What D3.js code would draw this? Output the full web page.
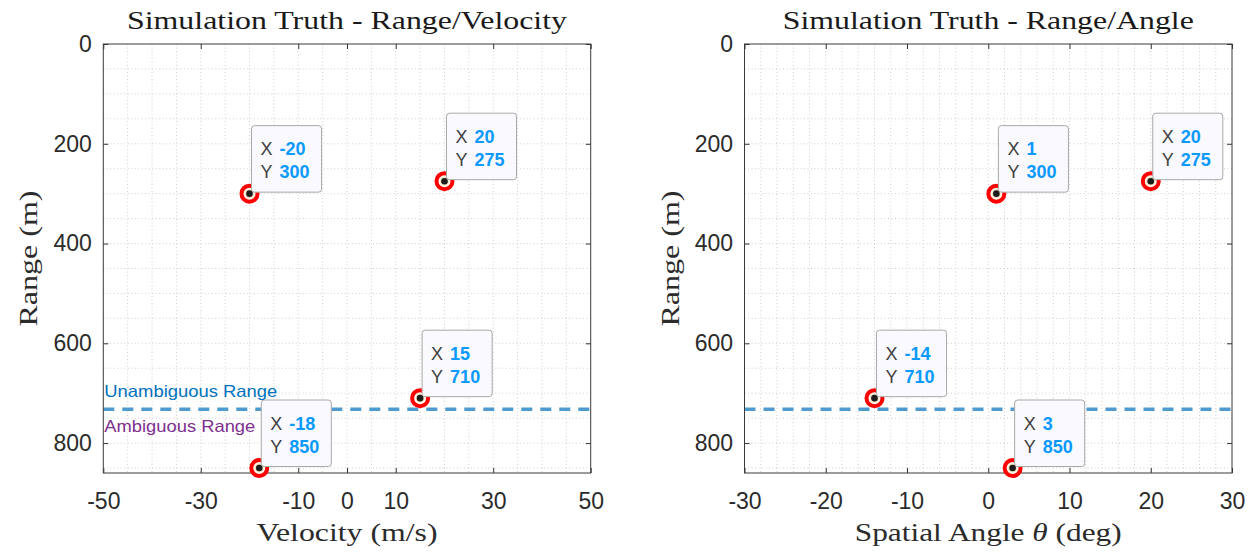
<!DOCTYPE html>
<html>
<head>
<meta charset="utf-8">
<script src="https://cdn.jsdelivr.net/npm/d3@7/dist/d3.min.js"></script>
<style>
body{margin:0;background:#fff;}
svg{display:block;}
</style>
</head>
<body>
<svg id="chart"></svg>
<script>
// target data
var rangeVals = [300, 275, 710, 850];
var velocityVals = [-20, 20, 15, -18];
var angleVals = [1, 20, -14, 3];
var unambiguousRange = 732;

var rangeTicks = [0, 200, 400, 600, 800];
var velocityTicks = [-50, -30, -10, 0, 10, 30, 50];
var angleTicks = [-30, -20, -10, 0, 10, 20, 30];

var screen = {width: 1257, height: 554};
var plotTop = 44, plotBottom = 473;

var svg = d3.select('#chart')
  .attr('width', screen.width)
  .attr('height', screen.height);

var sans = '"Liberation Sans", Arial, Helvetica, sans-serif';
var serif = '"Liberation Serif", "Times New Roman", serif';

var yScale = d3.scaleLinear()
  .domain([0, 860])
  .range([plotTop, plotBottom]);

var drawPanel = function(cfg)
{
  var xScale = d3.scaleLinear()
    .domain(cfg.xDomain)
    .range([cfg.left, cfg.right]);

  var g = svg.append('g').classed('panel', true);

  // dotted grid (major + minor)
  var xGrid = d3.range(cfg.xDomain[0] + cfg.xMinor, cfg.xDomain[1] - 0.001, cfg.xMinor);
  var yGrid = d3.range(50, 860, 50);
  g.append('g').selectAll('line.vg')
    .data(xGrid).enter().append('line')
    .attr('x1', function(d){return xScale(d);})
    .attr('x2', function(d){return xScale(d);})
    .attr('y1', plotTop).attr('y2', plotBottom)
    .attr('stroke', '#cfcfcf').attr('stroke-width', 1)
    .attr('stroke-dasharray', '1,2.5');
  g.append('g').selectAll('line.hg')
    .data(yGrid).enter().append('line')
    .attr('y1', function(d){return yScale(d);})
    .attr('y2', function(d){return yScale(d);})
    .attr('x1', cfg.left).attr('x2', cfg.right)
    .attr('stroke', '#cfcfcf').attr('stroke-width', 1)
    .attr('stroke-dasharray', '1,2.5');

  // ambiguity boundary
  g.append('line')
    .attr('x1', cfg.left).attr('x2', cfg.right)
    .attr('y1', yScale(unambiguousRange)).attr('y2', yScale(unambiguousRange))
    .attr('stroke', '#4f9bd0').attr('stroke-width', 3.5)
    .attr('stroke-dasharray', '11,8');

  if(cfg.regionLabels)
  {
    g.append('text')
      .attr('x', cfg.left + 1).attr('y', 396.5)
      .attr('font-family', sans).attr('font-size', 16.5)
      .attr('fill', '#0072BD')
      .attr('textLength', 173).attr('lengthAdjust', 'spacingAndGlyphs')
      .text('Unambiguous Range');
    g.append('text')
      .attr('x', cfg.left + 1).attr('y', 431.5)
      .attr('font-family', sans).attr('font-size', 16.5)
      .attr('fill', '#7E2F8E')
      .attr('textLength', 151).attr('lengthAdjust', 'spacingAndGlyphs')
      .text('Ambiguous Range');
  }

  // axes with inward ticks
  var xAxis = d3.axisBottom(xScale).tickValues(cfg.xTicks).tickSize(-5).tickPadding(19.5)
    .tickFormat(function(d){return String(d);});
  var xAxisTop = d3.axisTop(xScale).tickValues(cfg.xTicks).tickSize(-5).tickFormat('');
  var yAxis = d3.axisLeft(yScale).tickValues(rangeTicks).tickSize(-5).tickPadding(11.5);
  var yAxisRight = d3.axisRight(yScale).tickValues(rangeTicks).tickSize(-5).tickFormat('');

  var axes = [
    g.append('g').attr('transform', 'translate(0,' + plotBottom + ')').call(xAxis),
    g.append('g').attr('transform', 'translate(0,' + plotTop + ')').call(xAxisTop),
    g.append('g').attr('transform', 'translate(' + cfg.left + ',0)').call(yAxis),
    g.append('g').attr('transform', 'translate(' + cfg.right + ',0)').call(yAxisRight)
  ];
  axes.forEach(function(a)
  {
    a.select('.domain').remove();
    a.selectAll('line').attr('stroke', '#333');
    a.selectAll('text')
      .attr('font-family', sans).attr('font-size', 23)
      .attr('fill', '#2b2b2b');
  });

  g.append('rect')
    .attr('x', cfg.left).attr('y', plotTop)
    .attr('width', cfg.right - cfg.left).attr('height', plotBottom - plotTop)
    .attr('fill', 'none').attr('stroke', '#3a3a3a').attr('stroke-width', 1);

  // titles and labels
  var cx = (cfg.left + cfg.right) / 2;
  g.append('text')
    .attr('x', cx).attr('y', 29)
    .attr('text-anchor', 'middle')
    .attr('font-family', serif).attr('font-size', 26)
    .attr('fill', '#1a1a1a')
    .attr('textLength', cfg.titleWidth).attr('lengthAdjust', 'spacingAndGlyphs')
    .text(cfg.title);

  var xl = g.append('text')
    .attr('x', cx).attr('y', 541)
    .attr('text-anchor', 'middle')
    .attr('font-family', serif).attr('font-size', 26)
    .attr('fill', '#2b2b2b')
    .attr('textLength', cfg.xLabelWidth).attr('lengthAdjust', 'spacingAndGlyphs');
  cfg.xLabel.forEach(function(p)
  {
    xl.append('tspan').attr('font-style', p.italic ? 'italic' : 'normal').text(p.t);
  });

  g.append('text')
    .attr('transform', 'translate(' + (cfg.left - 66) + ',' + ((plotTop + plotBottom) / 2) + ') rotate(-90)')
    .attr('text-anchor', 'middle')
    .attr('font-family', serif).attr('font-size', 26)
    .attr('fill', '#2b2b2b')
    .attr('textLength', 136).attr('lengthAdjust', 'spacingAndGlyphs')
    .text('Range (m)');

  // target markers
  var pts = cfg.xVals.map(function(d, i){return {x: d, y: rangeVals[i]};});
  var marks = g.append('g').selectAll('g.mark')
    .data(pts).enter().append('g')
    .attr('transform', function(d){return 'translate(' + xScale(d.x) + ',' + yScale(d.y) + ')';});
  marks.append('circle').attr('r', 8)
    .attr('fill', '#fffaf0').attr('stroke', '#ff0000').attr('stroke-width', 4);
  marks.append('circle').attr('r', 4.4).attr('fill', '#f1dfb8');
  marks.append('circle').attr('r', 3.3).attr('fill', '#1c1c1c');

  // datatips
  pts.forEach(function(d)
  {
    var px = xScale(d.x) + 2, py = yScale(d.y) - 1.5;
    var h = 66.5;
    var tip = g.append('g').attr('transform', 'translate(' + px + ',' + (py - h) + ')');
    var box = tip.append('rect')
      .attr('y', 0).attr('x', 0).attr('height', h).attr('rx', 3)
      .attr('fill', '#f9f9fe').attr('stroke', '#a8a8a8').attr('stroke-width', 1);
    var rows = [['X', d.x], ['Y', d.y]];
    var maxW = 0;
    rows.forEach(function(r, i)
    {
      var by = 29.5 + i * 23.3;
      tip.append('text')
        .attr('x', 9).attr('y', by)
        .attr('font-family', sans).attr('font-size', 18)
        .attr('fill', '#404040').text(r[0]);
      var v = tip.append('text')
        .attr('x', 28).attr('y', by)
        .attr('font-family', sans).attr('font-size', 18).attr('font-weight', 'bold')
        .attr('fill', '#0a99ff').text(r[1]);
      maxW = Math.max(maxW, 28 + v.node().getComputedTextLength());
    });
    box.attr('width', maxW + 12);
  });
};

drawPanel({
  left: 103.3, right: 590.7,
  xDomain: [-50, 50], xTicks: velocityTicks, xMinor: 5,
  xVals: velocityVals,
  title: 'Simulation Truth - Range/Velocity', titleWidth: 440,
  xLabel: [{t: 'Velocity (m/s)'}], xLabelWidth: 181,
  regionLabels: true
});

drawPanel({
  left: 744.5, right: 1232,
  xDomain: [-30, 30], xTicks: angleTicks, xMinor: 2,
  xVals: angleVals,
  title: 'Simulation Truth - Range/Angle', titleWidth: 411,
  xLabel: [{t: 'Spatial Angle '}, {t: '\u03b8', italic: true}, {t: ' (deg)'}], xLabelWidth: 267,
  regionLabels: false
});
</script>
</body>
</html>
